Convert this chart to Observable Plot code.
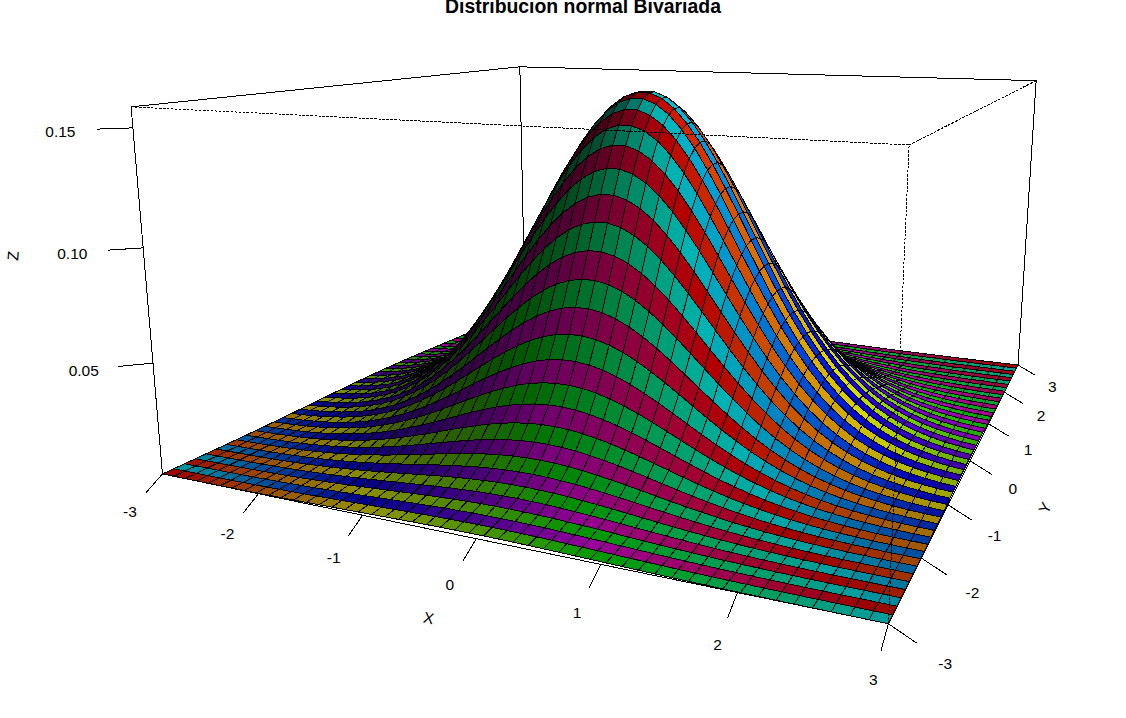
<!DOCTYPE html>
<html><head><meta charset="utf-8">
<script src="https://cdn.jsdelivr.net/npm/d3@7"></script>
<script src="https://cdn.jsdelivr.net/npm/@observablehq/plot@0.6"></script>
<style>html,body{margin:0;padding:0;background:#fff;overflow:hidden}svg{display:block}</style>
</head><body><div id="chart"></div>
<script>
const halfGrid=[-3,-2.87755,-2.7551,-2.63265,-2.5102,-2.38776,-2.26531,-2.14286,-2.02041,-1.89796,-1.77551,-1.65306,-1.53061,-1.40816,-1.28571,-1.16327,-1.04082,-0.91837,-0.79592,-0.67347,-0.55102,-0.42857,-0.30612,-0.18367,-0.06122];
const halfDensity=[0.00443,0.006351,0.008967,0.012472,0.017084,0.02306,0.030657,0.040154,0.051821,0.065858,0.0825,0.101761,0.123638,0.148014,0.174564,0.202806,0.232096,0.261664,0.290628,0.317998,0.34275,0.363933,0.380676,0.392266,0.398194];
const mirrorNeg=a=>[...a,...a.map(v=>-v).reverse()], mirror=a=>[...a,...a.slice().reverse()];
const gridX=mirrorNeg(halfGrid), gridY=gridX.slice(), densityX=mirror(halfDensity), densityY=densityX.slice();
const xTicks=[-3,-2,-1,0,1,2,3], yTicks=[-3,-2,-1,0,1,2,3], zTicks=[0.05,0.10,0.15];
const zLabels=["0.05","0.10","0.15"];
const titleText="Distribucion normal Bivariada", xName="X", yName="Y", zName="Z";
const zz=(a,b)=>densityX[a]*densityY[b];
const zMin=zz(0,0), zMax=zz(24,24);
const zC=(zMax+zMin)/2, zR=(zMax-zMin)/2;
const W=z=>(z-zC)/zR;
// perspective camera of the box: unit box coordinates to picture pixels
const cam=[230.067,287.52832,-17.56124,644.90254,0.60901,-0.9744,-167.04776,256.05203,-0.10652,0.23916,-0.02711];
const project=(u,v,w)=>{const d=cam[8]*u+cam[9]*v+cam[10]*w+1;return [(cam[0]*u+cam[1]*v+cam[2]*w+cam[3])/d,(cam[4]*u+cam[5]*v+cam[6]*w+cam[7])/d];};
const nColors=96, nCells=49, shadePow=0.7, light=[0.7,0.4,0];
function colorOf(i,j,sh){const c=d3.rgb(d3.hsl(((i+nCells*j)%nColors)/nColors*360,1,0.5));return d3.rgb(c.r*sh,c.g*sh,c.b*sh).formatHex();}
const cells=[];
for(let j=nCells-1;j>=0;j--)for(let i=0;i<nCells;i++){
 const dx=(gridX[i+1]-gridX[i])/3,dy=(gridY[j+1]-gridY[j])/3,sz=1/zR;
 const u=[dx,-dy,sz*(zz(i+1,j)-zz(i,j+1))],v=[dx,dy,sz*(zz(i+1,j+1)-zz(i,j))];
 let n=[u[1]*v[2]-u[2]*v[1],u[2]*v[0]-u[0]*v[2],u[0]*v[1]-u[1]*v[0]];const l=Math.hypot(...n);n=n.map(q=>q/l);
 const sh=Math.pow(0.5*(n[0]*light[0]+n[1]*light[1]+n[2]*light[2]+1),shadePow);
 const col=colorOf(i,j,sh),id=j*nCells+i;
 for(const [a,b] of [[i,j],[i+1,j],[i+1,j+1],[i,j+1]]){const p=project(gridX[a]/3,gridY[b]/3,W(zz(a,b)));cells.push({id,col,px:p[0],py:p[1]});}
}
const seg=(pts,id)=>pts.map(q=>{const p=project(...q);return {id,px:p[0],py:p[1]};});
const backEdges=[[[-1,-1,-1],[1,-1,-1]],[[1,-1,-1],[1,1,-1]],[[1,1,-1],[-1,1,-1]],[[-1,1,-1],[-1,-1,-1]],[[-1,-1,-1],[-1,-1,1]],[[-1,1,-1],[-1,1,1]],[[1,1,-1],[1,1,1]],[[-1,-1,1],[-1,1,1]],[[-1,1,1],[1,1,1]]].flatMap((e,k)=>seg(e,k));
const frontEdges=[[[1,-1,-1],[1,-1,1]],[[-1,-1,1],[1,-1,1]],[[1,-1,1],[1,1,1]]].flatMap((e,k)=>seg(e,k));
const t=0.06;
const ticks=[...xTicks.flatMap((q,k)=>seg([[q/3,-1,-1],[q/3,-1-t,-1-t]],"x"+k)),...yTicks.flatMap((q,k)=>seg([[1,q/3,-1],[1+t,q/3,-1-t]],"y"+k)),...zTicks.flatMap((q,k)=>seg([[-1,-1,W(q)],[-1-t,-1-t,W(q)]],"z"+k))];
const lab=(q,text,rotate=0)=>{const p=project(...q);return {px:p[0],py:p[1],text,rotate};};
const labels=[...xTicks.map(q=>lab([q/3,-1-2*t,-1-2*t],String(q))),...yTicks.map(q=>lab([1+2*t,q/3,-1-2*t],String(q))),...zTicks.map((q,k)=>lab([-1-2*t,-1-2*t,W(q)],zLabels[k]))];
const titles=[lab([0,-1-3.5*t,-1-3.5*t],xName,12),lab([1+3.5*t,0,-1-3.5*t],yName,-63),lab([-1-3.6*t,-1-3.6*t,0.265],zName,-85)];
const font="Liberation Sans, Arial, sans-serif";
document.getElementById("chart").append(Plot.plot({width:1126,height:718,margin:0,
 x:{domain:[0,1126],range:[0,1126],axis:null},y:{domain:[0,718],range:[0,718],axis:null},style:{background:"#fff",fontFamily:font},
 marks:[
  Plot.line(backEdges,{x:"px",y:"py",z:"id",stroke:"#000",strokeWidth:1,shapeRendering:"crispEdges"}),
  Plot.line(cells,{x:"px",y:"py",z:"id",fill:"col",stroke:"#000",strokeWidth:1,curve:"linear-closed",shapeRendering:"crispEdges"}),
  Plot.line(frontEdges,{x:"px",y:"py",z:"id",stroke:"#000",strokeWidth:1,strokeDasharray:"2,2",shapeRendering:"crispEdges"}),
  Plot.line(ticks,{x:"px",y:"py",z:"id",stroke:"#000",strokeWidth:1,shapeRendering:"crispEdges"}),
  Plot.text(labels,{x:"px",y:"py",text:"text",fontSize:15.5,dy:1.5,fill:"#000"}),
  Plot.text(titles,{x:"px",y:"py",text:"text",rotate:"rotate",fontSize:15.5,fill:"#000"}),
  Plot.text([titleText],{frameAnchor:"top",dx:19.5,dy:6.5,lineAnchor:"middle",fontSize:19.4,fontWeight:"bold",fill:"#000"})
 ]}));
</script></body></html>
